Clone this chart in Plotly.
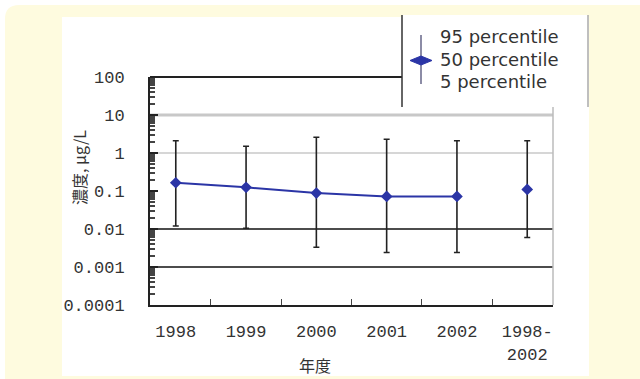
import plotly.graph_objects as go

# ---- data ----
years = ["1998", "1999", "2000", "2001", "2002", "1998-<br>2002"]
p50 = [0.165, 0.125, 0.088, 0.072, 0.072, 0.11]
p95 = [2.1, 1.5, 2.6, 2.3, 2.1, 2.1]
p5 = [0.012, 0.0105, 0.0033, 0.0024, 0.0024, 0.006]
y_tickvals = [0.0001, 0.001, 0.01, 0.1, 1, 10, 100]
y_ticktext = ["0.0001", "0.001", "0.01", "0.1", "1", "10", "100"]
legend_labels = ["95 percentile", "50 percentile", "5 percentile"]

W, H = 640, 379
L, R, T, B = 150, 553, 77, 305


def px(x):
    return (x - L) / (R - L)


def py(y):
    return (B - y) / (B - T)


BLUE = "#2b35a6"
TICKFONT = dict(family="Liberation Mono", size=17, color="#333333")

fig = go.Figure()

n_series = 5
fig.add_trace(go.Scatter(
    x=years[:n_series], y=p50[:n_series], mode="lines+markers",
    line=dict(color=BLUE, width=2),
    marker=dict(symbol="diamond", size=9, color=BLUE),
    error_y=dict(type="data", symmetric=False,
                 array=[a - b for a, b in zip(p95[:n_series], p50[:n_series])],
                 arrayminus=[b - c for b, c in zip(p50[:n_series], p5[:n_series])],
                 color="#222222", thickness=1.6, width=3),
    showlegend=False, hoverinfo="skip"))
fig.add_trace(go.Scatter(
    x=years[n_series:], y=p50[n_series:], mode="markers",
    marker=dict(symbol="diamond", size=9, color=BLUE),
    error_y=dict(type="data", symmetric=False,
                 array=[a - b for a, b in zip(p95[n_series:], p50[n_series:])],
                 arrayminus=[b - c for b, c in zip(p50[n_series:], p5[n_series:])],
                 color="#222222", thickness=1.6, width=3),
    showlegend=False, hoverinfo="skip"))

YEL = "#fefbdf"
shapes = []
# yellow rounded background
r = 14
x0, y0, x1, y1 = 5, 5, 645, 384
path = (f"M {px(x0)},{py(y0 + r)} Q {px(x0)},{py(y0)} {px(x0 + r)},{py(y0)} "
        f"L {px(x1)},{py(y0)} L {px(x1)},{py(y1)} L {px(x0)},{py(y1)} Z")
shapes.append(dict(type="path", path=path, xref="paper", yref="paper",
                   fillcolor=YEL, line=dict(width=0), layer="below"))
# white inner panel
shapes.append(dict(type="rect", xref="paper", yref="paper",
                   x0=px(62), x1=px(589), y0=py(17), y1=py(376),
                   fillcolor="white", line=dict(width=0), layer="below"))
# gridlines
grid = [(10, "#c8c8c8", 3), (1, "#c8c8c8", 1.5), (0.01, "#111111", 1.5), (0.001, "#111111", 1.5)]
for v, c, w in grid:
    shapes.append(dict(type="line", xref="paper", yref="y", x0=0, x1=1, y0=v, y1=v,
                       line=dict(color=c, width=w), layer="below"))
# top and right borders
shapes.append(dict(type="line", xref="paper", yref="paper", x0=0, x1=1, y0=1, y1=1,
                   line=dict(color="#222222", width=2), layer="below"))
shapes.append(dict(type="line", xref="paper", yref="paper", x0=1, x1=1, y0=0, y1=1,
                   line=dict(color="#bbbbbb", width=1.5), layer="below"))
# legend box
shapes.append(dict(type="rect", xref="paper", yref="paper",
                   x0=px(402), x1=px(588), y0=py(15), y1=py(107),
                   fillcolor="white", line=dict(width=0), layer="above"))
shapes.append(dict(type="line", xref="paper", yref="paper",
                   x0=px(402), x1=px(402), y0=py(15), y1=py(107),
                   line=dict(color="#333333", width=1.5), layer="above"))
shapes.append(dict(type="line", xref="paper", yref="paper",
                   x0=px(588), x1=px(588), y0=py(15), y1=py(107),
                   line=dict(color="#aaaaaa", width=1.5), layer="above"))
# legend symbol
shapes.append(dict(type="line", xref="paper", yref="paper",
                   x0=px(421), x1=px(421), y0=py(35), y1=py(84),
                   line=dict(color="#666688", width=1.5), layer="above"))
dpath = (f"M {px(410)},{py(60.5)} L {px(421)},{py(56)} L {px(432)},{py(60.5)} "
         f"L {px(421)},{py(65)} Z")
shapes.append(dict(type="path", path=dpath, xref="paper", yref="paper",
                   fillcolor=BLUE, line=dict(color=BLUE, width=1), layer="above"))

annotations = []
for i, lab in enumerate(legend_labels):
    annotations.append(dict(text=lab, xref="paper", yref="paper",
                            x=px(438), y=py(37 + 22.5 * i), xanchor="left", yanchor="middle",
                            showarrow=False, font=dict(family="DejaVu Sans", size=18, color="#333333")))
annotations.append(dict(text="年度", xref="paper", yref="paper", x=px(315), y=py(365),
                        xanchor="center", yanchor="middle", showarrow=False,
                        font=dict(family="Noto Sans CJK JP", size=16, color="#333333")))
annotations.append(dict(text="濃度, μg/L", xref="paper", yref="paper", x=px(79), y=py(168),
                        xanchor="center", yanchor="middle", showarrow=False, textangle=-90,
                        font=dict(family="Noto Sans CJK JP, DejaVu Sans", size=16, color="#333333")))

fig.update_layout(
    width=W, height=H,
    margin=dict(l=L, r=W - R, t=T, b=H - B, pad=0),
    paper_bgcolor="white", plot_bgcolor="rgba(0,0,0,0)",
    shapes=shapes, annotations=annotations,
    xaxis=dict(type="category", categoryorder="array", categoryarray=years,
               showline=True, linecolor="#222222", linewidth=2,
               ticks="inside", tickson="boundaries", ticklen=6, tickcolor="#444444",
               showgrid=False, zeroline=False, ticklabelstandoff=10,
               tickfont=TICKFONT),
    yaxis=dict(type="log", range=[-4, 2], tickvals=y_tickvals, ticktext=y_ticktext,
               showline=True, linecolor="#222222", linewidth=2,
               ticks="inside", ticklen=8, tickwidth=2, tickcolor="#222222",
               minor=dict(ticks="inside", ticklen=5, tickcolor="#444444", dtick="D1", showgrid=False),
               showgrid=False, zeroline=False, ticklabelstandoff=20,
               tickfont=TICKFONT),
)

fig.write_html("out.html", config={"displayModeBar": False},
               post_script="document.body.style.margin='0';document.body.style.overflow='hidden';")
